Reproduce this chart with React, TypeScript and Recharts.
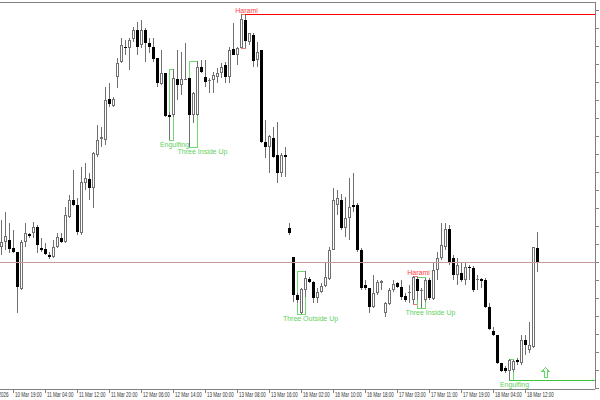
import React from "react"
import { ComposedChart, Bar, XAxis, YAxis, ReferenceLine, ReferenceArea, ReferenceDot } from "recharts"

// H1 candles, prices in points (one point = 1/18 of a scale division)
const open = [
  153, 158, 160, 152, 148, 111, 158, 166, 167, 173,
  152, 151, 145, 143, 153, 162, 158, 183, 200, 195,
  167, 217, 221, 212, 245, 261, 260, 301, 294, 323,
  338, 353, 352, 361, 370, 355, 370, 357, 353, 342,
  316, 327, 285, 285, 321, 315, 321, 322, 285, 285,
  333, 323, 320, 320, 323, 327, 335, 323, 351, 345,
  352, 380, 358, 365, 340, 350, 258, 253, 262, 245,
  227, 245, 172, 143, 105, 87, 110, 121, 118, 102,
  108, 114, 121, 150, 195, 200, 172, 182, 195, 195,
  150, 115, 112, 93, 107, 117, 87, 96, 110, 117,
  113, 104, 108, 100, 121, 110, 100, 120, 101, 130,
  142, 153, 171, 142, 125, 127, 120, 133, 132, 121,
  121, 120, 93, 69, 65, 37, 32, 29, 30, 40,
  37, 60, 50, 53, 152,
]
const high = [
  180, 188, 177, 170, 148, 160, 177, 167, 178, 175,
  162, 157, 148, 160, 167, 167, 193, 205, 230, 202,
  233, 237, 227, 248, 275, 273, 313, 317, 303, 342,
  362, 360, 362, 373, 378, 380, 372, 362, 362, 342,
  350, 327, 288, 331, 350, 348, 357, 322, 308, 339,
  340, 340, 322, 328, 332, 337, 338, 353, 377, 353,
  386, 385, 367, 367, 358, 350, 280, 265, 273, 278,
  247, 253, 177, 143, 107, 112, 129, 123, 119, 112,
  117, 138, 153, 212, 210, 206, 203, 222, 227, 197,
  152, 120, 112, 125, 120, 120, 98, 112, 120, 118,
  120, 107, 115, 124, 123, 112, 122, 122, 138, 148,
  177, 177, 175, 145, 142, 138, 138, 135, 134, 125,
  122, 122, 97, 73, 65, 37, 34, 41, 40, 42,
  65, 65, 78, 153, 168,
]
const low = [
  145, 150, 147, 147, 87, 110, 153, 162, 162, 147,
  148, 145, 141, 142, 152, 157, 157, 182, 194, 165,
  165, 210, 200, 192, 243, 253, 255, 293, 293, 312,
  337, 345, 330, 358, 345, 352, 338, 347, 338, 313,
  315, 283, 260, 283, 300, 305, 320, 253, 277, 284,
  327, 313, 307, 307, 317, 322, 317, 317, 345, 335,
  352, 352, 355, 333, 333, 257, 242, 227, 242, 217,
  223, 223, 165, 98, 97, 86, 103, 117, 97, 97,
  107, 113, 120, 150, 185, 170, 163, 160, 188, 148,
  110, 110, 87, 92, 105, 110, 83, 95, 108, 112,
  100, 98, 97, 96, 100, 92, 98, 100, 100, 120,
  140, 150, 135, 120, 115, 118, 115, 120, 108, 110,
  112, 92, 70, 64, 36, 28, 27, 20, 28, 35,
  35, 45, 47, 52, 128,
]
const close = [
  158, 164, 151, 148, 113, 158, 167, 164, 173, 155,
  150, 146, 143, 153, 163, 158, 185, 200, 195, 168,
  218, 222, 212, 247, 260, 263, 300, 296, 301, 337,
  355, 352, 360, 370, 353, 370, 357, 353, 341, 317,
  327, 284, 283, 322, 315, 321, 321, 285, 307, 333,
  328, 318, 320, 325, 327, 333, 323, 350, 345, 352,
  381, 359, 367, 339, 348, 258, 253, 264, 243, 227,
  245, 243, 167, 105, 100, 111, 122, 118, 102, 108,
  114, 123, 150, 200, 202, 172, 182, 193, 193, 150,
  112, 112, 93, 107, 118, 119, 97, 110, 116, 113,
  103, 100, 108, 123, 109, 110, 120, 102, 130, 142,
  155, 171, 137, 125, 135, 120, 133, 132, 110, 121,
  119, 93, 71, 65, 37, 29, 29, 40, 39, 38,
  60, 55, 55, 153, 138,
]

// time scale: one label every 8 bars, first one on bar 3
const timeLabels = [
  "10 Mar 19:00", "11 Mar 04:00", "11 Mar 12:00", "11 Mar 20:00", "12 Mar 06:00",
  "12 Mar 14:00", "13 Mar 00:00", "13 Mar 08:00", "13 Mar 16:00", "16 Mar 02:00",
  "16 Mar 10:00", "16 Mar 18:00", "17 Mar 03:00", "17 Mar 11:00", "17 Mar 19:00",
  "18 Mar 04:00", "18 Mar 12:00",
]
const firstDate = "10 Mar 2026" // label of the bar before the window, mostly cut off
const LABEL_FIRST = 3
const LABEL_STEP = 8
const SHIFT_SLOTS = 14 // empty bars on the right (chart shift)

const priceTicks = [12, 30, 48, 66, 84, 102, 120, 138, 156, 174, 192, 210, 228, 246, 264, 282, 300, 318, 336, 354, 372, 390]

// candlestick patterns found by the indicator
const patternNames = ["Engulfing", "Three Inside Up", "Harami", "Three Outside Up", "Harami", "Three Inside Up", "Engulfing"]
const patternFirst = [42, 47, 60, 74, 103, 104, 127]
const patternLast = [43, 49, 61, 76, 104, 106, 128]
const patternBull = [true, true, false, true, false, true, true]

const RESIST_PATTERN = 2 // harami at the top -> resistance line
const SUPPORT_PATTERN = 6 // last engulfing -> support line
const signalSlot = 136
const signalPrice = 28

const FONT = '"Liberation Sans", Arial, sans-serif'
const AXIS = "#808080"
const WICK = "#707070"

const rows = Array.from({ length: open.length + SHIFT_SLOTS }, (_, i) =>
  i < open.length
    ? { slot: i, open: open[i], high: high[i], low: low[i], close: close[i], range: [low[i], high[i]] }
    : { slot: i }
)
const lastSlot = rows.length - 1

function Candle(props: any) {
  const { x, y, width, height, payload } = props
  if (payload == null || payload.open == null) return null
  const top = Math.min(y, y + height)
  const h = Math.abs(height)
  const { open: o, high: hi, low: lo, close: c } = payload
  const toY = (v: number) => top + ((hi - v) / (hi - lo)) * h
  const cx = Math.round(x + width / 2)
  const bTop = Math.round(toY(Math.max(o, c)))
  const bBot = Math.round(toY(Math.min(o, c)))
  const wick = <line x1={cx + 0.5} x2={cx + 0.5} y1={Math.round(top)} y2={Math.round(top + h)} stroke={WICK} />
  if (bBot - bTop < 2) {
    return (
      <g>
        {wick}
        <rect x={cx - 1} y={bTop} width={3} height={1} fill={c < o ? "#000" : WICK} />
      </g>
    )
  }
  return (
    <g>
      {wick}
      {c > o ? (
        <rect x={cx - 0.5} y={bTop + 0.5} width={2} height={bBot - bTop - 1} fill="#fff" stroke={WICK} />
      ) : (
        <rect x={cx - 1} y={bTop} width={3} height={bBot - bTop} fill="#000" />
      )}
    </g>
  )
}

function PatternBox(props: any) {
  const { x, y, width, height, name, bull, n } = props
  const bw = width / n
  const left = Math.round(x + bw / 2) + 0.5
  const right = Math.round(x + width - bw / 2) + 0.5
  const top = Math.round(y) + 0.5
  const bottom = Math.round(y + height) + 0.5
  const boxColor = bull ? "#6fd86f" : "#f07878"
  const textColor = bull ? "#5fd05f" : "#ff4040"
  return (
    <g>
      <rect x={left} y={top} width={right - left} height={bottom - top} fill="none" stroke={boxColor} />
      <text
        x={right + 1 + (n - 2) * bw}
        y={bull ? bottom + 6.5 : top - 1.5}
        textAnchor="middle"
        fontFamily={FONT}
        fontSize={7}
        fill={textColor}
      >
        {name}
      </text>
    </g>
  )
}

function AxisText({ x, y, children }: any) {
  // MT4 uses a narrow bitmap font here: squeeze Liberation Sans horizontally
  return (
    <text transform={`translate(${x},${y}) scale(0.7,1)`} fontFamily={FONT} fontSize={6.5} fill="#333">
      {children}
    </text>
  )
}

function TimeTick(props: any) {
  const { x, y, payload } = props
  const i = payload.value - LABEL_FIRST
  if (i < 0 || i % LABEL_STEP !== 0) return null
  const label = timeLabels[i / LABEL_STEP]
  if (!label) return null
  const px = Math.round(x) + 0.5
  const step = (x / (payload.value + 0.5)) * LABEL_STEP
  return (
    <g>
      <line x1={px} x2={px} y1={y} y2={y + 4} stroke={AXIS} />
      <AxisText x={px + 1.5} y={y + 7.5}>{label}</AxisText>
      {i === 0 && <AxisText x={px + 1.5 - step} y={y + 7.5}>{firstDate}</AxisText>}
    </g>
  )
}

function NoLabel() {
  return null
}

function Arrow(props: any) {
  const cx = Math.round(props.cx) + 0.5
  const cy = Math.round(props.cy) + 0.5
  const pts = [
    [0, -5], [3.5, -1], [1.5, -1], [1.5, 5], [-1.5, 5], [-1.5, -1], [-3.5, -1],
  ].map(([dx, dy]) => `${cx + dx},${cy + dy}`).join(" ")
  return <polygon points={pts} fill="#fff" stroke="#66d966" />
}

const resistance = Math.max(...high.slice(patternFirst[RESIST_PATTERN], patternLast[RESIST_PATTERN] + 1))
const support = Math.min(...low.slice(patternFirst[SUPPORT_PATTERN], patternLast[SUPPORT_PATTERN] + 1))

export default function App() {
  return (
    <div style={{ position: "relative", width: 600, height: 400, overflow: "hidden", background: "#fff", shapeRendering: "crispEdges" }}>
      <style>{"body{margin:0;overflow:hidden}"}</style>
      <div style={{ position: "absolute", left: -1, top: 0 }}>
        <ComposedChart width={616} height={400} data={rows} margin={{ top: 2, right: 0, bottom: 0, left: 0 }} barCategoryGap={0}>
          <XAxis
            dataKey="slot"
            interval={0}
            height={11}
            tickLine={false}
            tickSize={0}
            tickMargin={0}
            axisLine={{ stroke: AXIS }}
            tick={<TimeTick />}
          />
          <YAxis
            orientation="right"
            domain={[11, 398]}
            allowDataOverflow
            ticks={priceTicks}
            interval={0}
            width={20}
            tickSize={4}
            axisLine={{ stroke: AXIS }}
            tickLine={{ stroke: AXIS }}
            tick={<NoLabel />}
          />
          <ReferenceLine y={398} stroke={AXIS} />
          <ReferenceLine y={close[close.length - 1]} stroke="#c49a9a" />
          <ReferenceLine
            segment={[{ x: patternLast[RESIST_PATTERN], y: resistance }, { x: lastSlot, y: resistance }]}
            shape={(p: any) => <line x1={p.x1} y1={p.y1} x2={p.x2 + 3} y2={p.y2} stroke="#ff0000" />}
          />
          <ReferenceLine
            segment={[{ x: patternFirst[SUPPORT_PATTERN], y: support }, { x: lastSlot, y: support }]}
            shape={(p: any) => <line x1={p.x1} y1={p.y1} x2={p.x2 + 3} y2={p.y2} stroke="#3cc43c" />}
          />
          <Bar dataKey="range" shape={<Candle />} isAnimationActive={false} />
          {patternNames.map((name, i) => {
            const a = patternFirst[i]
            const b = patternLast[i]
            const hi = Math.max(...high.slice(a, b + 1))
            const lo = Math.min(...low.slice(a, b + 1))
            return (
              <ReferenceArea
                key={i}
                x1={a}
                x2={b}
                y1={lo}
                y2={hi}
                ifOverflow="visible"
                shape={(p: any) => <PatternBox {...p} name={name} bull={patternBull[i]} n={b - a + 1} />}
              />
            )
          })}
          <ReferenceDot x={signalSlot} y={signalPrice} r={0} ifOverflow="visible" shape={(p: any) => <Arrow {...p} />} />
        </ComposedChart>
      </div>
    </div>
  )
}
